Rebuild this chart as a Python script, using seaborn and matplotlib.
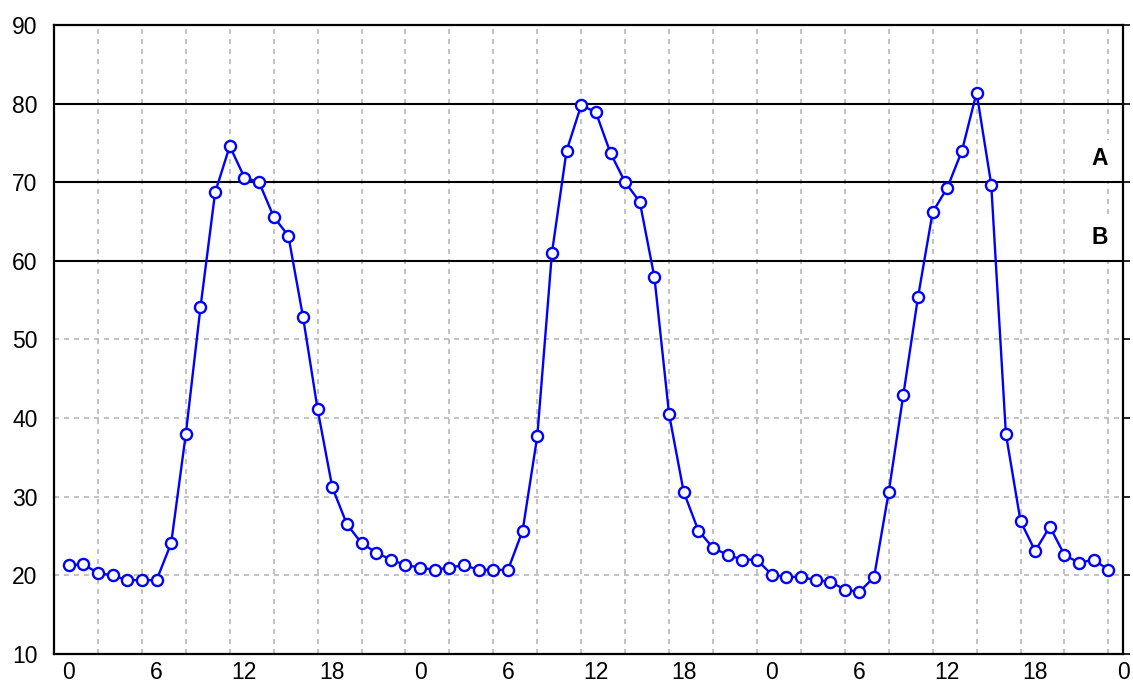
import matplotlib
matplotlib.use("Agg")
import matplotlib.pyplot as plt
from matplotlib.patches import Rectangle
import numpy as np
import pandas as pd
import seaborn as sns

# hourly readings over three days (hour index 0..71)
hours = list(range(72))
values = [
    21.3, 21.4, 20.3, 20.0, 19.4, 19.4, 19.4, 24.1, 38.0, 54.1, 68.7, 74.6,
    70.6, 70.0, 65.6, 63.2, 52.9, 41.1, 31.2, 26.5, 24.1, 22.9, 22.0, 21.3,
    21.0, 20.7, 21.0, 21.3, 20.7, 20.7, 20.7, 25.7, 37.7, 61.0, 74.0, 79.8,
    78.9, 73.7, 70.0, 67.5, 57.9, 40.5, 30.6, 25.7, 23.5, 22.6, 22.0, 22.0,
    20.1, 19.8, 19.8, 19.4, 19.2, 18.2, 17.9, 19.8, 30.6, 43.0, 55.4, 66.2,
    69.3, 74.0, 81.4, 69.7, 38.0, 26.9, 23.1, 26.2, 22.6, 21.6, 22.0, 20.7,
]
hour_ticks = list(range(0, 73, 6))
hour_labels = ["0", "6", "12", "18"] * 3 + ["0"]
limit_levels = [60, 70, 80]
zone_labels = ["A", "B"]
zone_base = [70, 60]

df = pd.DataFrame({"hour": hours, "value": values})

sns.set_style("white")
plt.rcParams["font.family"] = ["Liberation Sans", "DejaVu Sans"]

fig = plt.figure(figsize=(11.33, 6.88), dpi=100)
ax = fig.add_axes([0.0477, 0.0494, 0.9435, 0.9143])

ax.set_xlim(-1, 72)
ax.set_ylim(10, 90)

# dashed grid: vertical every 3 h (offset), horizontal every 10
ax.set_xticks(hour_ticks)
ax.set_xticklabels(hour_labels)
ax.set_xticks(np.arange(2, 72, 3), minor=True)
ax.set_yticks(range(10, 91, 10))
ax.grid(False)
ax.grid(which="minor", axis="x", color="#b8b8b8", linestyle=(0, (3, 3)), linewidth=1.2)
ax.grid(which="major", axis="y", color="#b8b8b8", linestyle=(0, (3, 3)), linewidth=1.2)

for lvl in limit_levels:
    ax.axhline(lvl, color="black", linewidth=1.5, zorder=2)

# zone labels sit on small white boxes that hide the grid
for lab, base in zip(zone_labels, zone_base):
    ax.add_patch(Rectangle((69.6, base), 2.1, 5.4, facecolor="white",
                           edgecolor="none", zorder=1.5))
    ax.text(70.4, base + 3.0, lab, ha="center", va="center", fontsize=16.5,
            fontweight="bold", color="black", zorder=4)

sns.lineplot(data=df, x="hour", y="value", ax=ax, color="#0000ff", linewidth=1.7,
             marker="o", markersize=8, markerfacecolor="white",
             markeredgecolor="#0000ff", markeredgewidth=1.7, zorder=3)

for s in ax.spines.values():
    s.set_color("black")
    s.set_linewidth(1.6)

ax.tick_params(axis="x", which="major", length=0, labelsize=16.5, pad=5, colors="black")
ax.tick_params(axis="x", which="minor", length=4, width=1.2, direction="out", color="black")
ax.tick_params(axis="y", which="major", length=5, width=1.2, direction="out",
               labelsize=16.5, pad=7, right=True, colors="black")
ax.set_xlabel("")
ax.set_ylabel("")

fig.savefig("out.png", dpi=100)
